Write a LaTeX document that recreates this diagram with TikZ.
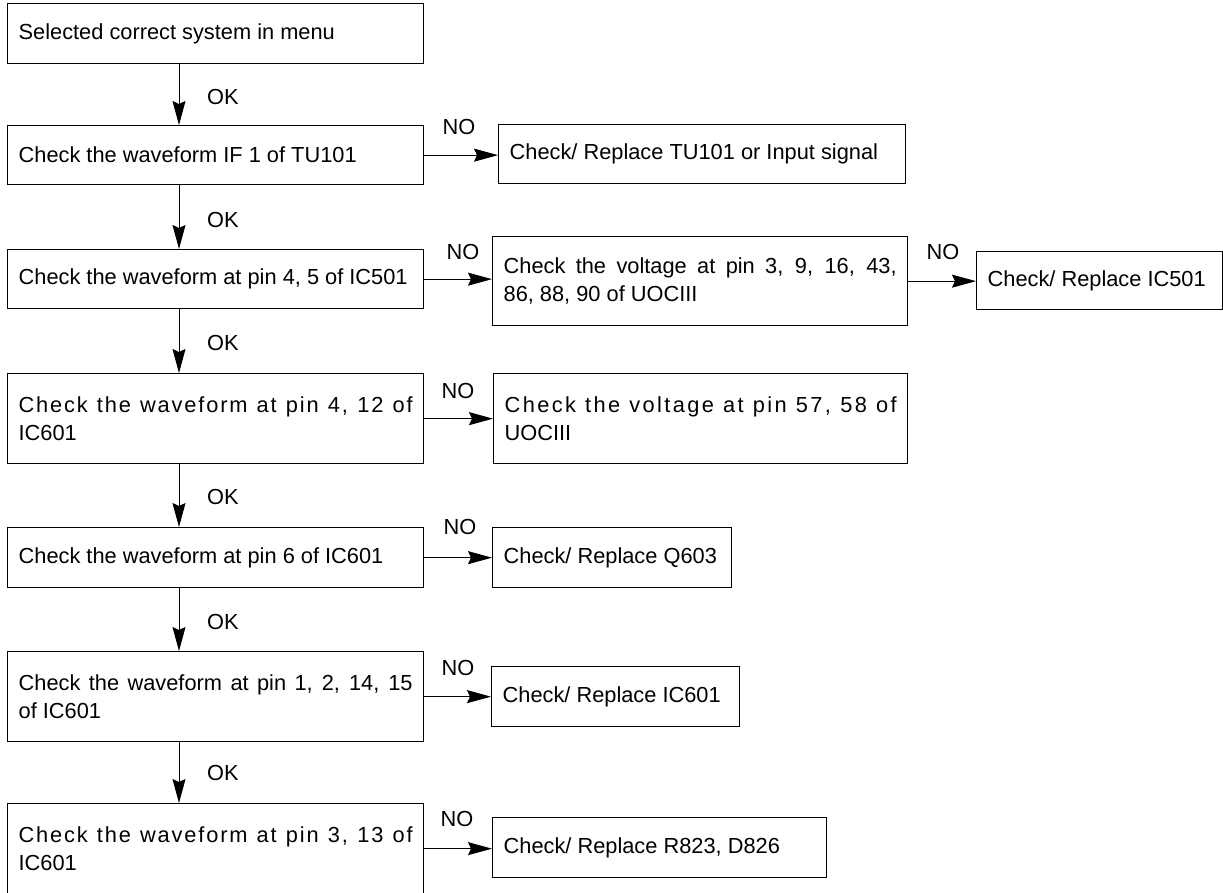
\documentclass[tikz,border=0pt]{standalone}
\usepackage{fontspec}
\setmainfont{Liberation Sans}
\newfontfamily\lsA[LetterSpace=8.5]{Liberation Sans}
\newfontfamily\lsB[LetterSpace=11]{Liberation Sans}
\usetikzlibrary{arrows.meta}
\newcommand\nsp{\spaceskip=0pt\xspaceskip=0pt\relax}
\newcommand\fillline[1]{\makebox[\hsize][s]{\nsp #1}}
\begin{document}
\begin{tikzpicture}[x=1pt,y=-1pt,
  box/.style={draw, line width=1.3pt, anchor=north west, inner xsep=11pt, inner ysep=0pt,
    align=left, font=\fontsize{21.8}{28}\selectfont},
  flow/.style={line width=1pt, -{Stealth[length=24pt,width=13pt,inset=3pt]}},
  lbl/.style={font=\fontsize{21.8}{28}\selectfont, inner sep=0pt}]
\useasboundingbox (0,0) rectangle (1223,892);

% left column
\node[box, text width=394pt, minimum height=60pt] (b1) at (7,3) {\nsp Selected correct system in menu};
\node[box, text width=394pt, minimum height=59pt] (b2) at (7,125) {\nsp Check the waveform IF 1 of TU101};
\node[box, text width=394pt, minimum height=59pt] (b3) at (7,249) {\nsp Check the waveform at pin 4, 5 of IC501};
\node[box, text width=394pt, minimum height=90pt] (b4) at (7,373) {{\lsA\fillline{Check the waveform at pin 4, 12 of}}\\IC601};
\node[box, text width=394pt, minimum height=60pt] (b5) at (7,527) {\nsp Check the waveform at pin 6 of IC601};
\node[box, text width=394pt, minimum height=90pt] (b6) at (7,651) {\fillline{Check the waveform at pin 1, 2, 14, 15}\\\nsp of IC601};
\node[box, text width=394pt, minimum height=90pt] (b7) at (7,803) {{\lsA\fillline{Check the waveform at pin 3, 13 of}}\\IC601};

% right column
\node[box, text width=385pt, minimum height=59pt] (r2) at (498,124) {\nsp Check/ Replace TU101 or Input signal};
\node[box, text width=393pt, minimum height=89pt] (r3) at (492,236) {\fillline{Check the voltage at pin 3, 9, 16, 43,}\\\nsp 86, 88, 90 of UOCIII};
\node[box, text width=224pt, minimum height=58pt] (r3b) at (976,251) {\nsp Check/ Replace IC501};
\node[box, text width=392pt, minimum height=90pt] (r4) at (493,373) {{\lsB\fillline{Check the voltage at pin 57, 58 of}}\\UOCIII};
\node[box, text width=217pt, minimum height=60pt] (r5) at (492,527) {\nsp Check/ Replace Q603};
\node[box, text width=226pt, minimum height=60pt] (r6) at (491,666) {\nsp Check/ Replace IC601};
\node[box, text width=312pt, minimum height=60pt] (r7) at (492,817) {\nsp Check/ Replace R823, D826};

% OK arrows
\foreach \a/\b in {b1/b2,b2/b3,b3/b4,b4/b5,b5/b6,b6/b7}{
  \draw[flow] ([xshift=172pt]\a.south west) -- ([xshift=172pt]\b.north west);
}
\node[lbl, anchor=west] (ok1) at (207,97) {OK};
\node[lbl, anchor=west] (ok2) at (207,220) {OK};
\node[lbl, anchor=west] (ok3) at (207,343) {OK};
\node[lbl, anchor=west] (ok4) at (207,497) {OK};
\node[lbl, anchor=west] (ok5) at (207,622) {OK};
\node[lbl, anchor=west] (ok6) at (207,773) {OK};

% NO arrows
\draw[flow] (b2.east) -- (b2.east -| r2.west);
\draw[flow] (b3.east) -- (b3.east -| r3.west);
\draw[flow] (r3.east) -- (r3.east -| r3b.west);
\draw[flow] (b4.east) -- (b4.east -| r4.west);
\draw[flow] (b5.east) -- (b5.east -| r5.west);
\draw[flow] (b6.east) -- (b6.east -| r6.west);
\draw[flow] (b7.east) -- (b7.east -| r7.west);
\node[lbl] (no1) at (459,127) {NO};
\node[lbl] (no2) at (463,252) {NO};
\node[lbl] (no3) at (943,252) {NO};
\node[lbl] (no4) at (458,391) {NO};
\node[lbl] (no5) at (460,527) {NO};
\node[lbl] (no6) at (458,668) {NO};
\node[lbl] (no7) at (457,819) {NO};
\end{tikzpicture}
\end{document}
